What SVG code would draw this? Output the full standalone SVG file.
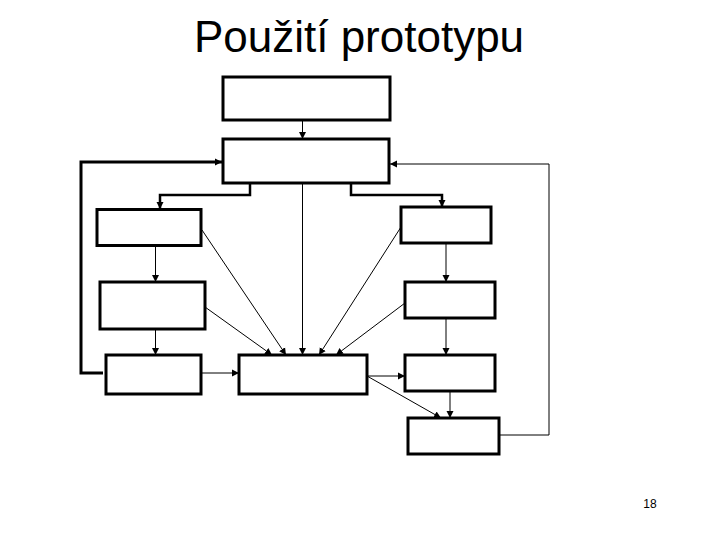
<svg xmlns="http://www.w3.org/2000/svg" width="720" height="540" viewBox="0 0 720 540">
<style>
.box{fill:#fff;stroke:#000;stroke-width:3}
.c{fill:none;stroke:#000;stroke-width:1;marker-end:url(#ah)}
.thick{fill:none;stroke:#000;stroke-width:3}
.t{font-family:"Liberation Sans",Arial,sans-serif;fill:#000}
</style>
<defs>
<marker id="ah" markerUnits="userSpaceOnUse" markerWidth="8" markerHeight="8" refX="7" refY="4" orient="auto">
<path d="M0,0.5 L7,4 L0,7.5 z" fill="#000"/>
</marker>
</defs>
<rect width="720" height="540" fill="#fff"/>
<text class="t" x="359" y="52" font-size="44" text-anchor="middle">Použití prototypu</text>
<text class="t" x="650" y="508" font-size="12" text-anchor="middle">18</text>
<g id="connectors">
<line class="c" x1="302.5" y1="120" x2="302.5" y2="139"/>
<polyline class="c" style="stroke-width:2.5" points="250,183 250,195 160,195 160,209"/>
<polyline class="c" style="stroke-width:2.5" points="351,183 351,195 442,195 442,207"/>
<line class="c" x1="302.5" y1="180" x2="302.5" y2="355"/>
<polyline class="c" style="stroke-width:3" points="103,373 81,373 81,162 222,162"/>
<polyline class="c" points="499,435 549,435 549,164 390,164"/>
<line class="c" x1="155.5" y1="246" x2="155.5" y2="282"/>
<line class="c" x1="155.5" y1="329" x2="155.5" y2="355"/>
<line class="c" x1="201" y1="373" x2="239" y2="373"/>
<line class="c" x1="202" y1="230" x2="286" y2="355"/>
<line class="c" x1="205" y1="307" x2="272" y2="355"/>
<line class="c" x1="401" y1="227" x2="319" y2="355"/>
<line class="c" x1="405" y1="303" x2="336" y2="355"/>
<line class="c" x1="446" y1="243" x2="446" y2="282"/>
<line class="c" x1="446" y1="318" x2="446" y2="355"/>
<line class="c" x1="367" y1="376" x2="405" y2="376"/>
<line class="c" x1="367" y1="376" x2="441" y2="418"/>
<line class="c" x1="450" y1="391" x2="450" y2="418"/>
</g>
<g id="n-top"><rect class="box" x="223" y="77" width="167" height="43"/></g>
<g id="n-main"><rect class="box" x="223" y="139" width="166" height="44"/></g>
<g id="n-left1"><rect class="box" x="97" y="209.5" width="104" height="36"/></g>
<g id="n-left2"><rect class="box" x="100" y="282" width="105" height="47"/></g>
<g id="n-left3"><rect class="box" x="106" y="355" width="95" height="39"/></g>
<g id="n-center"><rect class="box" x="239" y="355" width="128" height="39"/></g>
<g id="n-right1"><rect class="box" x="401" y="207" width="90" height="36"/></g>
<g id="n-right2"><rect class="box" x="405" y="282" width="90" height="36"/></g>
<g id="n-right3"><rect class="box" x="405" y="355" width="90" height="36"/></g>
<g id="n-right4"><rect class="box" x="408" y="418" width="91" height="36"/></g>
</svg>
